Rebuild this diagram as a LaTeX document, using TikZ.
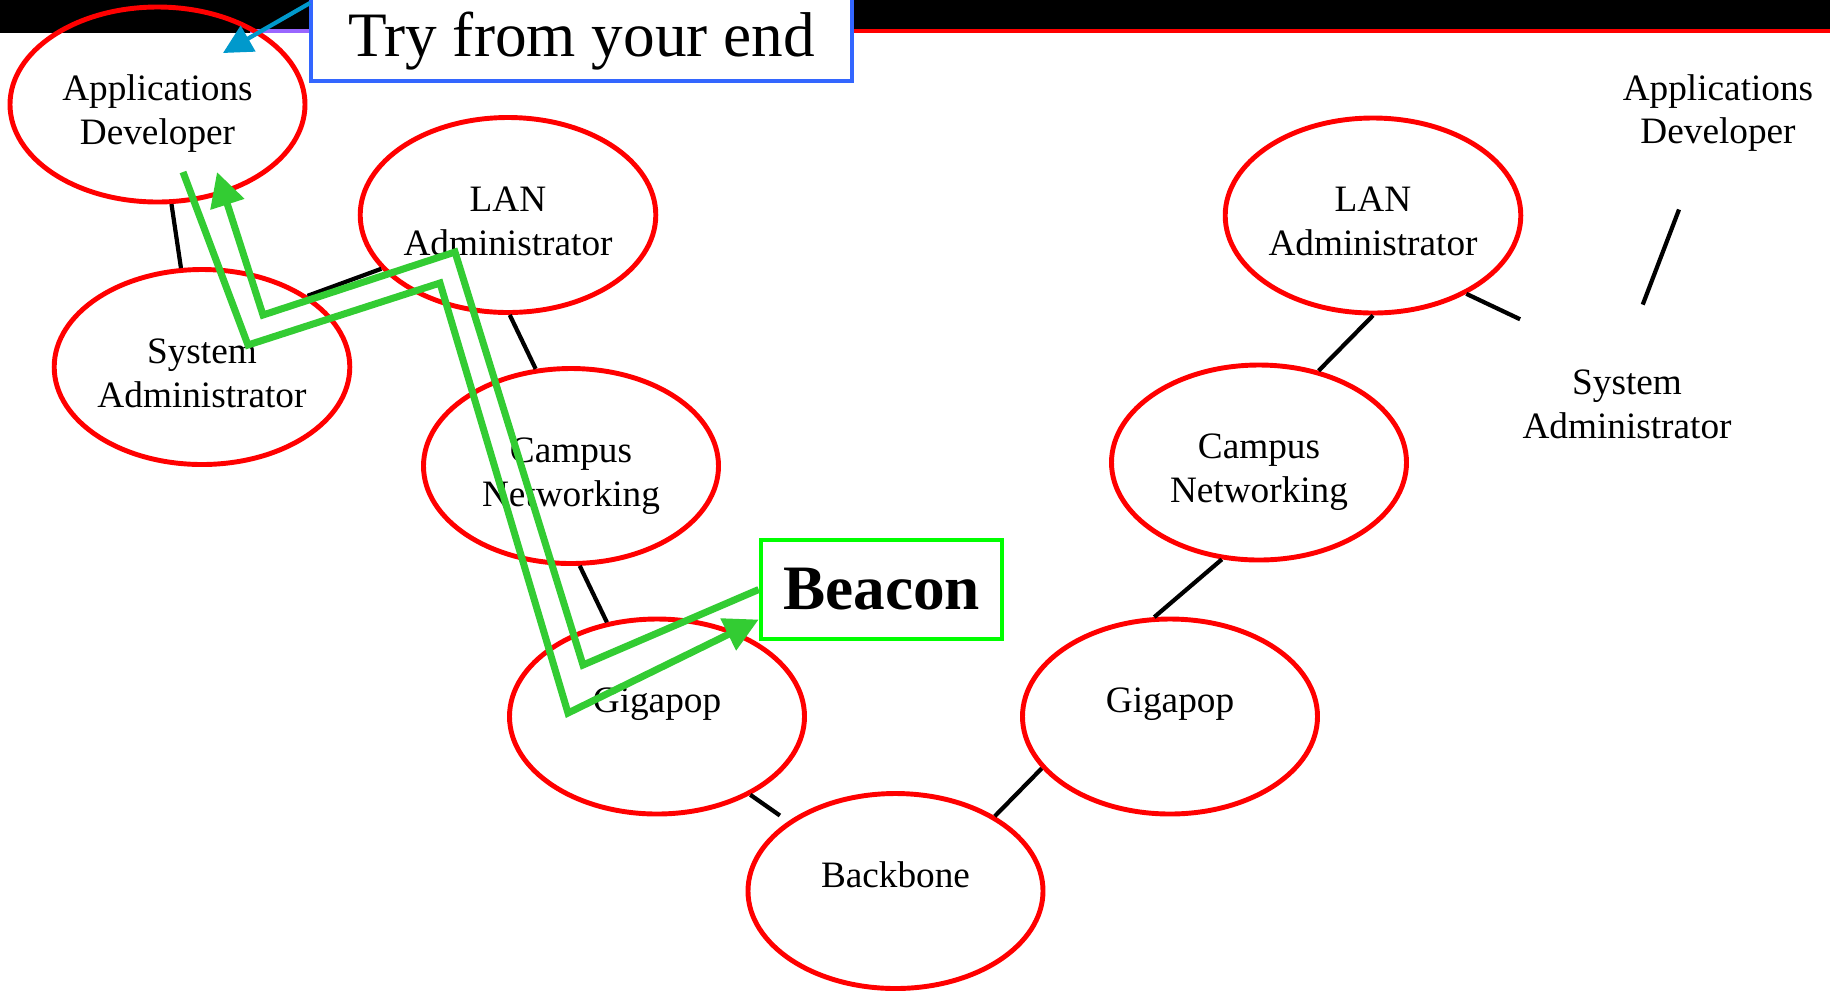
\documentclass[tikz,border=0pt]{standalone}
\usepackage{fontspec}
\setmainfont{Liberation Serif}
\usetikzlibrary{arrows.meta,shapes.geometric}
\definecolor{trailgreen}{RGB}{51,204,51}
\definecolor{beacongreen}{RGB}{0,255,0}
\definecolor{tryblue}{RGB}{51,102,255}
\definecolor{pointblue}{RGB}{0,153,204}
\definecolor{barpurple}{RGB}{153,102,255}
\tikzset{role/.style={ellipse,draw=red,line width=1.4pt,minimum width=2.95cm,minimum height=1.95cm,inner sep=0pt,align=center,font=\fontsize{10.6}{12.5}\selectfont},
  ghost/.style={role,draw=none},
  oneline/.style={text depth=3.3mm},
  twoline/.style={text height=8mm,text depth=0mm},
  link/.style={line width=1.2pt},
  trail/.style={draw=trailgreen,line width=2pt},
  callout/.style={draw,fill=white,line width=1.3pt,inner sep=0pt,font=\fontsize{18}{21}\selectfont}}

\begin{document}
\begin{tikzpicture}[>={Triangle[length=3.4mm,width=3.4mm]}]
  \useasboundingbox (0,0) rectangle (18.3,-9.92);
  % title bar
  \fill (0,0) rectangle (18.3,-0.29);
  \fill (0,0) rectangle (2.5,-0.33);
  \fill[barpurple] (2.5,-0.29) rectangle (3.1,-0.33);
  \fill[red] (8.52,-0.29) rectangle (18.3,-0.33);

  % left site
  \node[role,twoline] (AppDev) at (1.575,-1.045) {Applications\\Developer};
  \node[role,twoline] (LanL) at (5.08,-2.15) {LAN\\Administrator};
  \node[role,twoline] (SysL) at (2.02,-3.67) {System\\Administrator};
  \node[role,twoline] (CampL) at (5.71,-4.66) {Campus\\Networking};
  \node[role,oneline] (GigaL) at (6.57,-7.165) {Gigapop};
  \node[role,oneline] (Backbone) at (8.955,-8.91) {Backbone};
  % right site
  \node[role,oneline] (GigaR) at (11.70,-7.165) {Gigapop};
  \node[role,twoline] (CampR) at (12.59,-4.625) {Campus\\Networking};
  \node[role,twoline] (LanR) at (13.73,-2.155) {LAN\\Administrator};
  \node[ghost] (SysR) at (16.27,-4.04) {System\\Administrator};
  \node[ghost] (AppR) at (17.18,-1.13) {Applications\\Developer};

  \draw[link] (AppDev.278) -- (SysL.102);
  \draw[link] (SysL.34) -- (LanL.203);
  \draw[link] (LanL.271) -- (CampL.110);
  \draw[link] (CampL.275) -- (GigaL.118);
  \draw[link,shorten >=1mm] (GigaL.320) -- (Backbone.147);
  \draw[link] (Backbone.37) -- (GigaR.202);
  \draw[link] (GigaR.99) -- (CampR.249);
  \draw[link] (CampR.57) -- (LanR.270);
  \draw[link,shorten >=1.5mm] (LanR.320) -- (SysR.140);
  \draw[link] (AppR.248) -- (SysR.81);

  \node[callout,draw=tryblue,minimum width=5.41cm,text height=0.76cm,text depth=0.25cm,anchor=base] (TryEnd) at (5.815,-0.56) {Try from your end};
  \node[callout,draw=beacongreen,minimum width=2.41cm,minimum height=0.99cm,font=\fontsize{18}{21}\selectfont\bfseries] (Beacon) at (8.815,-5.895) {Beacon};

  % trace out and back
  \coordinate (TrailStart) at (1.83,-1.72);
  \coordinate (TrailEnd) at (2.17,-1.72);
  \draw[trail,->] (TrailStart) -- (2.48,-3.45) -- (4.40,-2.83) -- (5.68,-7.13) -- ([yshift=-3mm]Beacon.west);
  \draw[trail,->] (Beacon.west) -- (5.83,-6.65) -- (4.55,-2.52) -- (2.63,-3.15) -- (TrailEnd);

  \coordinate (TryFoot) at (3.10,-0.03);
  \coordinate (AppTip) at (2.23,-0.53);
  \draw[pointblue,line width=1.2pt,-{Triangle[length=2.9mm,width=2.9mm]}] (TryFoot) -- (AppTip);
\end{tikzpicture}
\end{document}
